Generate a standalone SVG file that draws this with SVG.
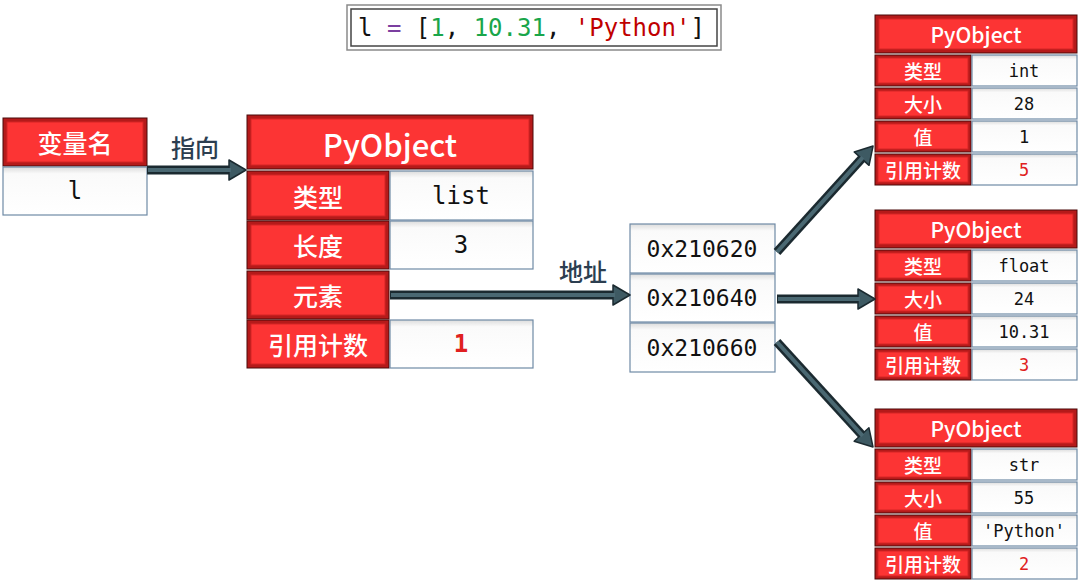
<svg xmlns="http://www.w3.org/2000/svg" width="1080" height="586" viewBox="0 0 1080 586">
<style>
.ro{fill:#b51a1a;stroke:#4a0a0a;stroke-width:1}
.ri{fill:#fc3434;stroke:#d42424;stroke-width:1}
.wo{fill:url(#wg);stroke:#6f8aa6;stroke-width:1.2}
.cj{font-family:"Noto Sans CJK SC",sans-serif;fill:#fff;text-anchor:middle;dominant-baseline:central;font-weight:500}
.big{font-size:25px}
.sm{font-size:19px}
.po{font-family:"Noto Sans CJK SC","Noto Sans",sans-serif;fill:#fff;text-anchor:middle;dominant-baseline:central;font-weight:500}
.mono{font-family:"DejaVu Sans Mono","Liberation Mono",monospace;fill:#111;text-anchor:middle;dominant-baseline:central}
.lbl{font-family:"Noto Sans CJK SC",sans-serif;fill:#2c3e50;font-size:24px;font-weight:500;text-anchor:middle;dominant-baseline:central}
.cnt{fill:#e02020}
.sh{stroke:#1b2a30;stroke-width:9;fill:none;marker-end:url(#ah)}
.si{stroke:#4a6872;stroke-width:4;fill:none}
</style>
<defs>
<linearGradient id="wg" x1="0" y1="0" x2="0" y2="1">
<stop offset="0" stop-color="#dcdcdc"/>
<stop offset="0.14" stop-color="#fafafa"/>
<stop offset="1" stop-color="#ffffff"/>
</linearGradient>
<marker id="ah" markerUnits="userSpaceOnUse" markerWidth="18" markerHeight="22" viewBox="0 0 18 22" refX="1" refY="11" orient="auto" overflow="visible">
<path d="M0,1 L17,11 L0,21 Z" fill="#3e5a63" stroke="#1b2a30" stroke-width="1.5" stroke-linejoin="round"/>
</marker>
</defs>
<rect width="1080" height="586" fill="#fff"/>

<g id="code">
<rect x="347" y="5" width="374" height="45" fill="#fff" stroke="#8a8a8a" stroke-width="1.5"/>
<rect x="351" y="9" width="366" height="37" fill="#fff" stroke="#444" stroke-width="1.5"/>
<text x="358" y="28" font-family="DejaVu Sans Mono,Liberation Mono,monospace" font-size="24" dominant-baseline="central"><tspan fill="#111">l </tspan><tspan fill="#7b3fa0">=</tspan><tspan fill="#111"> [</tspan><tspan fill="#1aa64a">1</tspan><tspan fill="#111">, </tspan><tspan fill="#1aa64a">10.31</tspan><tspan fill="#111">, </tspan><tspan fill="#c00000">'Python'</tspan><tspan fill="#111">]</tspan></text>
</g>

<g id="varname">
<rect class="ro" x="3" y="118" width="144" height="48"/>
<rect class="ri" x="7" y="122" width="136" height="40"/>
<text class="cj big" x="75" y="142">变量名</text>
<rect class="wo" x="3" y="167" width="144" height="48"/>
<text class="mono" x="75" y="191" font-size="24">l</text>
</g>

<g id="pyobj-list">
<rect class="ro" x="247" y="115" width="286" height="54"/>
<rect class="ri" x="251" y="119" width="278" height="46"/>
<text class="po" x="390" y="143" font-size="31">PyObject</text>
<rect class="ro" x="247" y="171" width="142" height="49"/>
<rect class="ri" x="251" y="175" width="134" height="41"/>
<text class="cj big" x="318" y="195.5">类型</text>
<rect class="wo" x="390" y="171" width="143" height="49"/>
<text class="mono" x="461" y="195.5" font-size="24">list</text>
<rect class="ro" x="247" y="221" width="142" height="48"/>
<rect class="ri" x="251" y="225" width="134" height="40"/>
<text class="cj big" x="318" y="245">长度</text>
<rect class="wo" x="390" y="221" width="143" height="48"/>
<text class="mono" x="461" y="245" font-size="24">3</text>
<rect class="ro" x="247" y="271" width="142" height="48"/>
<rect class="ri" x="251" y="275" width="134" height="40"/>
<text class="cj big" x="318" y="295">元素</text>
<rect class="ro" x="247" y="320" width="142" height="48"/>
<rect class="ri" x="251" y="324" width="134" height="40"/>
<text class="cj big" x="318" y="344">引用计数</text>
<rect class="wo" x="390" y="320" width="143" height="48"/>
<text class="mono cnt" x="461" y="344" font-size="24" font-weight="bold">1</text>
</g>

<g id="addresses">
<rect class="wo" x="630" y="224" width="145" height="49"/>
<text class="mono" x="702" y="249" font-size="23">0x210620</text>
<rect class="wo" x="630" y="274" width="145" height="48"/>
<text class="mono" x="702" y="298" font-size="23">0x210640</text>
<rect class="wo" x="630" y="323" width="145" height="49"/>
<text class="mono" x="702" y="347.5" font-size="23">0x210660</text>
</g>

<g id="pyobj-int">
<rect class="ro" x="875" y="15" width="202" height="38"/>
<rect class="ri" x="879" y="19" width="194" height="30"/>
<text class="po" x="976" y="34" font-size="21">PyObject</text>
<rect class="ro" x="875" y="55" width="96" height="31"/><rect class="ri" x="878" y="58" width="90" height="25"/>
<text class="cj sm" x="923" y="70.5">类型</text>
<rect class="wo" x="972" y="55" width="105" height="31"/><text class="mono" x="1024" y="70.5" font-size="17">int</text>
<rect class="ro" x="875" y="88" width="96" height="31"/><rect class="ri" x="878" y="91" width="90" height="25"/>
<text class="cj sm" x="923" y="103.5">大小</text>
<rect class="wo" x="972" y="88" width="105" height="31"/><text class="mono" x="1024" y="103.5" font-size="17">28</text>
<rect class="ro" x="875" y="121" width="96" height="31"/><rect class="ri" x="878" y="124" width="90" height="25"/>
<text class="cj sm" x="923" y="136.5">值</text>
<rect class="wo" x="972" y="121" width="105" height="31"/><text class="mono" x="1024" y="136.5" font-size="17">1</text>
<rect class="ro" x="875" y="154" width="96" height="31"/><rect class="ri" x="878" y="157" width="90" height="25"/>
<text class="cj sm" x="923" y="169.5">引用计数</text>
<rect class="wo" x="972" y="154" width="105" height="31"/><text class="mono cnt" x="1024" y="169.5" font-size="17">5</text>
</g>

<g id="pyobj-float">
<rect class="ro" x="875" y="210" width="202" height="38"/>
<rect class="ri" x="879" y="214" width="194" height="30"/>
<text class="po" x="976" y="229" font-size="21">PyObject</text>
<rect class="ro" x="875" y="250" width="96" height="31"/><rect class="ri" x="878" y="253" width="90" height="25"/>
<text class="cj sm" x="923" y="265.5">类型</text>
<rect class="wo" x="972" y="250" width="105" height="31"/><text class="mono" x="1024" y="265.5" font-size="17">float</text>
<rect class="ro" x="875" y="283" width="96" height="31"/><rect class="ri" x="878" y="286" width="90" height="25"/>
<text class="cj sm" x="923" y="298.5">大小</text>
<rect class="wo" x="972" y="283" width="105" height="31"/><text class="mono" x="1024" y="298.5" font-size="17">24</text>
<rect class="ro" x="875" y="316" width="96" height="31"/><rect class="ri" x="878" y="319" width="90" height="25"/>
<text class="cj sm" x="923" y="331.5">值</text>
<rect class="wo" x="972" y="316" width="105" height="31"/><text class="mono" x="1024" y="331.5" font-size="17">10.31</text>
<rect class="ro" x="875" y="349" width="96" height="31"/><rect class="ri" x="878" y="352" width="90" height="25"/>
<text class="cj sm" x="923" y="364.5">引用计数</text>
<rect class="wo" x="972" y="349" width="105" height="31"/><text class="mono cnt" x="1024" y="364.5" font-size="17">3</text>
</g>

<g id="pyobj-str">
<rect class="ro" x="875" y="409" width="202" height="38"/>
<rect class="ri" x="879" y="413" width="194" height="30"/>
<text class="po" x="976" y="428" font-size="21">PyObject</text>
<rect class="ro" x="875" y="449" width="96" height="31"/><rect class="ri" x="878" y="452" width="90" height="25"/>
<text class="cj sm" x="923" y="464.5">类型</text>
<rect class="wo" x="972" y="449" width="105" height="31"/><text class="mono" x="1024" y="464.5" font-size="17">str</text>
<rect class="ro" x="875" y="482" width="96" height="31"/><rect class="ri" x="878" y="485" width="90" height="25"/>
<text class="cj sm" x="923" y="497.5">大小</text>
<rect class="wo" x="972" y="482" width="105" height="31"/><text class="mono" x="1024" y="497.5" font-size="17">55</text>
<rect class="ro" x="875" y="515" width="96" height="31"/><rect class="ri" x="878" y="518" width="90" height="25"/>
<text class="cj sm" x="923" y="530.5">值</text>
<rect class="wo" x="972" y="515" width="105" height="31"/><text class="mono" x="1024" y="530.5" font-size="17">'Python'</text>
<rect class="ro" x="875" y="548" width="96" height="31"/><rect class="ri" x="878" y="551" width="90" height="25"/>
<text class="cj sm" x="923" y="563.5">引用计数</text>
<rect class="wo" x="972" y="548" width="105" height="31"/><text class="mono cnt" x="1024" y="563.5" font-size="17">2</text>
</g>

<g id="connectors">
<line class="sh" x1="147" y1="170" x2="230" y2="170"/>
<line class="si" x1="148" y1="170" x2="231" y2="170"/>
<text class="lbl" x="195" y="146">指向</text>
<line class="sh" x1="390" y1="295" x2="614" y2="295"/>
<line class="si" x1="391" y1="295" x2="615" y2="295"/>
<text class="lbl" x="583" y="270">地址</text>
<line class="sh" x1="777" y1="252" x2="862.3" y2="157.9"/>
<line class="si" x1="777" y1="252" x2="862.8" y2="157.3"/>
<line class="sh" x1="777" y1="299" x2="859" y2="299"/>
<line class="si" x1="778" y1="299" x2="860" y2="299"/>
<line class="sh" x1="777" y1="342" x2="862.2" y2="435.2"/>
<line class="si" x1="777" y1="342" x2="862.7" y2="435.8"/>
</g>
</svg>
